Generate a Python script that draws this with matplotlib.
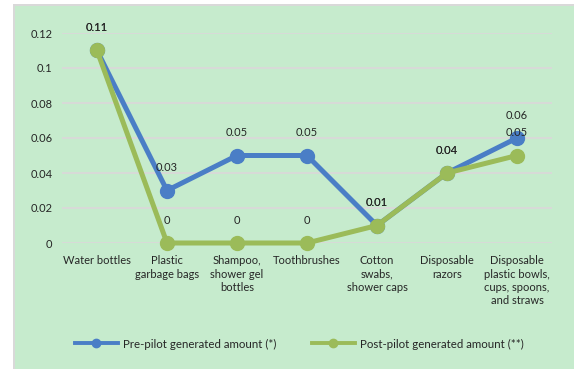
import matplotlib
matplotlib.use("Agg")
import matplotlib.pyplot as plt
from matplotlib.patches import Rectangle

categories = [
    "Water bottles",
    "Plastic\ngarbage bags",
    "Shampoo,\nshower gel\nbottles",
    "Toothbrushes",
    "Cotton\nswabs,\nshower caps",
    "Disposable\nrazors",
    "Disposable\nplastic bowls,\ncups, spoons,\nand straws",
]
pre_pilot = [0.11, 0.03, 0.05, 0.05, 0.01, 0.04, 0.06]
post_pilot = [0.11, 0, 0, 0, 0.01, 0.04, 0.05]
series_names = ["Pre-pilot generated amount (*)", "Post-pilot generated amount (**)"]
y_ticks = [0, 0.02, 0.04, 0.06, 0.08, 0.1, 0.12]
y_tick_labels = ["0", "0.02", "0.04", "0.06", "0.08", "0.1", "0.12"]

BG = "#C6EBCD"
BLUE = "#4A7EC6"
GREEN = "#9BBB59"
TEXT = "#262626"
FS = 8

plt.rcParams["font.family"] = ["Lato", "DejaVu Sans"]

W, H = 574, 369
fig = plt.figure(figsize=(W / 100, H / 100), dpi=100, facecolor="white")

# chart area with grey frame on left/top
fig.patches.append(Rectangle((13 / W, 0), 1 - 13 / W, 1 - 4 / H, transform=fig.transFigure,
                             facecolor="#D9D9D9", edgecolor="none", zorder=-20))
fig.patches.append(Rectangle((15 / W, 0), 1 - 15 / W, 1 - 6 / H, transform=fig.transFigure,
                             facecolor=BG, edgecolor="none", zorder=-19))

left, right, top, bottom = 62, 552, 33, 243
ax = fig.add_axes([left / W, 1 - bottom / H, (right - left) / W, (bottom - top) / H])
ax.set_facecolor("none")

x = list(range(len(categories)))
ax.set_xlim(-0.5, len(categories) - 0.5)
ax.set_ylim(0, 0.12)
ax.set_yticks(y_ticks)
ax.set_yticklabels(y_tick_labels)
ax.yaxis.grid(True, color="#D9D9D9", linewidth=1.3)
ax.set_axisbelow(True)
for s in ax.spines.values():
    s.set_visible(False)
ax.tick_params(axis="both", length=0, labelsize=FS, colors=TEXT)
ax.tick_params(axis="y", pad=7)
ax.set_xticks(x)
ax.set_xticklabels(categories, linespacing=1.25, va="top")
ax.tick_params(axis="x", pad=9)

l1, = ax.plot(x, pre_pilot, color=BLUE, linewidth=3.6, marker="o", markersize=10,
              clip_on=False, zorder=3, label=series_names[0])
l2, = ax.plot(x, post_pilot, color=GREEN, linewidth=3.6, marker="o", markersize=10,
              clip_on=False, zorder=4, label=series_names[1])

for series in (pre_pilot, post_pilot):
    for xi, v in zip(x, series):
        ax.annotate(f"{v:g}", (xi, v), xytext=(0, 12.5), textcoords="offset points",
                    ha="center", va="bottom", fontsize=FS, color=TEXT)

# two legend entries placed side by side
for handle, x0 in ((l1, 75), (l2, 312)):
    leg = fig.legend(handles=[handle], loc="center left",
                     bbox_to_anchor=(x0 / W, 1 - 344 / H), frameon=False,
                     fontsize=8.3, handlelength=3.7, handletextpad=0.5,
                     borderaxespad=0, borderpad=0, markerscale=0.6)
    for h in leg.legend_handles:
        h.set_linewidth(2.8)
    for t in leg.get_texts():
        t.set_color(TEXT)

fig.savefig("out.png", dpi=100, facecolor="white")
